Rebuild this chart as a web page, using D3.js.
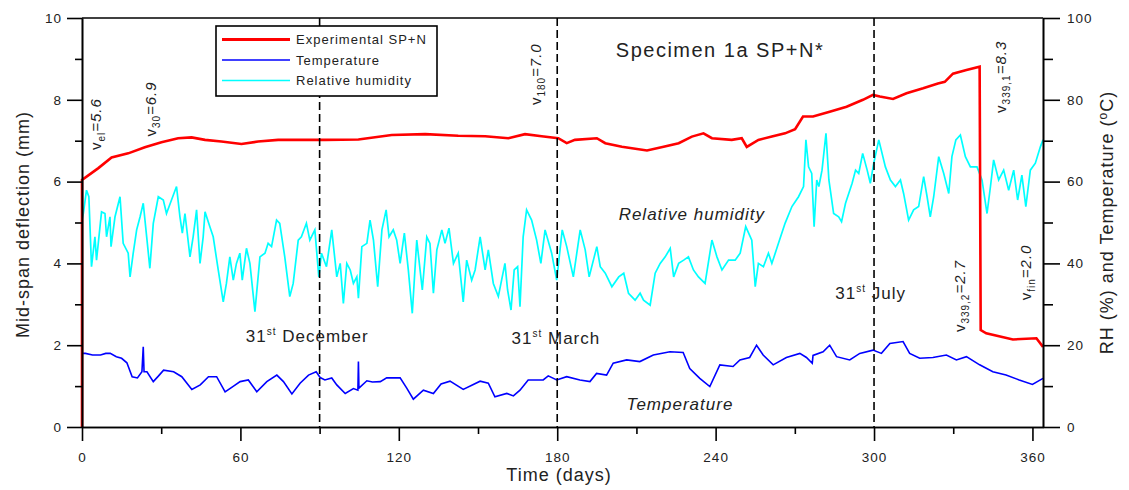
<!DOCTYPE html>
<html>
<head>
<meta charset="utf-8">
<script src="https://cdn.jsdelivr.net/npm/d3@7"></script>
<style>
  body { margin: 0; background: #fff; }
  svg text { font-family: "Liberation Sans", Arial, sans-serif; fill: #222; letter-spacing: 1px; }
</style>
</head>
<body>
<svg id="chart" width="1129" height="490"></svg>
<script>
// Mid-span deflection (mm) : [day, value]
const deflection = [
  [0,0],[0,6.04],[6.2,6.33],[11.2,6.59],[17.5,6.69],[23.8,6.84],[30.1,6.96],[36.4,7.06],[41.5,7.08],
  [46.6,7.02],[52.8,6.98],[60.4,6.92],[66.7,6.98],[74.3,7.02],[86.9,7.02],[92.1,7.02],[104.7,7.03],
  [117.3,7.14],[130,7.16],[142.5,7.12],[152.7,7.11],[161.5,7.06],[167.8,7.16],[174.1,7.11],[180.4,7.06],
  [183.6,6.94],[186.7,7.02],[195,7.06],[198.2,6.94],[204.5,6.85],[214,6.76],[220.3,6.85],[226,6.94],
  [231,7.10],[235.4,7.18],[238.6,7.06],[246.1,7.02],[249.9,7.06],[251.8,6.85],[256.2,7.02],[261.3,7.10],
  [266.3,7.18],[270.1,7.28],[273.1,7.59],[276.9,7.59],[283.2,7.71],[289.6,7.83],[295.8,8.0],[299.6,8.12],
  [302.2,8.08],[307.2,8.02],[312.3,8.16],[318.6,8.28],[324.2,8.40],[326.8,8.44],[329.9,8.64],[335,8.73],
  [340,8.81],[340.4,2.37],[342.5,2.29],[352.6,2.14],[361.5,2.17],[364,1.96]
];

// Temperature (oC) : [day, value]
const temperature = [
  [0,18.0],[1.3,18.0],[4,17.6],[7,17.6],[9,18.0],[10.7,18.0],[13,17.2],[15,16.8],[17,15.7],[19,12.3],
  [21,12.0],[22.7,13.5],[23.2,19.6],[23.5,13.5],[24.6,13.5],[27,11.1],[29,12.5],[30.9,13.9],[34.7,13.5],
  [37.8,12.3],[41.6,9.2],[44.8,10.3],[47.9,12.3],[51,12.3],[54.2,8.6],[57.4,10.0],[59.9,11.1],[63,11.5],
  [66.2,8.6],[70,11.1],[73.8,12.7],[76.3,11.1],[79.5,8.1],[82.6,10.7],[85.8,12.7],[88.7,13.5],[90.2,12.1],
  [92,11.5],[94.6,12.0],[96.5,10.3],[99.7,8.2],[102.8,9.4],[104.5,9.0],[104.7,16.0],[104.9,9.5],[107.9,11.3],
  [110,11.0],[113,11.1],[115.4,12.0],[120.5,12.0],[123,9.5],[125.5,6.8],[129.3,9.0],[133.1,8.2],[136,10.5],
  [139.4,11.2],[144.4,9.2],[150.8,11.2],[153.9,10.7],[156.4,7.4],[160.9,8.2],[163.4,7.6],[165.9,9.0],
  [169,11.5],[174.7,11.5],[176.6,12.5],[179.8,11.5],[183.6,12.3],[188.6,11.5],[192.4,11.1],[194.9,13.1],
  [198.7,12.7],[201.2,15.6],[206.3,16.4],[211.3,16.0],[216.4,17.6],[222.7,18.4],[227.7,18.2],[230.2,14.3],
  [234,11.9],[237.8,9.9],[241.6,15.2],[246.6,14.8],[249.2,16.4],[252.9,17.0],[255.5,20.0],[258,17.6],
  [261.8,15.2],[266.8,17.0],[271.9,18.0],[274.4,17.0],[276.6,15.6],[276.9,17.5],[280.7,18.4],[283.2,20.0],
  [285.8,17.2],[290.8,16.4],[294.6,18.0],[299.6,18.8],[302.8,18.0],[306,20.4],[311,20.9],[313.5,18.0],
  [317.3,16.8],[322.3,17.0],[327.4,17.6],[331.2,16.4],[335,17.2],[340,15.2],[345,13.5],[350,12.7],
  [355,11.5],[360,10.4],[364,11.9]
];

// Relative humidity (%) : [day, value]
const humidity = [
  [0,50.6],[0.5,52.2],[1.7,57.9],[2.6,56.3],[3.6,39.2],[4.9,46.5],[5.5,40.8],[7.4,52.6],[8.7,52.2],[9.3,46.5],
  [10.6,51.4],[11,44.1],[12.5,51.4],[14.4,56.3],[15.6,44.9],[17.5,42.5],[18.2,36.7],[19.4,42.5],[20.7,48.2],
  [22,51.4],[23.2,54.7],[24.5,46.5],[25.7,38.8],[27,49.8],[28.9,56.3],[30.8,55.5],[32,52.2],[33.9,55.5],
  [35.8,58.8],[37.1,51.4],[38,47.4],[39,52.2],[40.9,41.6],[42.1,46.5],[43.4,53.1],[44.7,40.0],[45.9,46.5],
  [46.6,52.6],[48.4,49.0],[49.7,46.5],[51.6,38.4],[53.5,30.6],[54.7,35.1],[56,41.6],[57.3,35.9],[58.5,40.0],
  [59.8,42.5],[60.7,35.9],[62.3,43.7],[63.6,40.0],[65.5,28.2],[67.4,41.6],[69.3,42.5],[70.5,44.9],[71.8,44.1],
  [73.7,50.6],[74.9,49.8],[76.8,41.6],[78.7,31.9],[80,35.1],[81.9,45.7],[83.1,46.5],[85,49.8],[86.3,45.7],
  [88.2,48.2],[89.7,36.7],[90.7,42.5],[92.6,39.2],[94.6,48.2],[96.5,36.7],[97.8,40.0],[99,30.2],[100.3,40.0],
  [101.6,38.4],[102.8,35.1],[104.1,36.7],[104.7,31.5],[106,44.1],[107.9,44.9],[109.1,50.6],[110.4,45.7],
  [112,34.3],[113.6,48.2],[115.2,53.1],[116.3,46.5],[117.9,48.2],[119.2,45.7],[120.5,40.0],[122.1,47.4],
  [123.6,38.4],[125.1,27.8],[126.8,45.7],[128.9,33.5],[130.6,46.5],[131.8,44.9],[133.1,32.7],[134.4,43.3],
  [136.3,48.2],[137.5,44.9],[139,48.6],[140.7,40.0],[142.5,42.5],[144.4,30.6],[145.7,40.8],[147.6,35.9],
  [148.9,38.4],[150.8,46.5],[152.7,38.4],[153.9,43.3],[155.8,35.1],[157.7,31.9],[160.2,40.0],[161.2,33.5],
  [162.5,28.6],[163.7,38.4],[165,39.2],[165.9,29.4],[167.1,46.5],[168.4,53.1],[170.3,50.6],[172.2,45.7],
  [173.8,40.0],[175.4,48.2],[177.9,42.5],[179.8,35.9],[181.9,48.2],[183.6,44.1],[186.1,36.7],[188.7,48.2],
  [190.6,43.3],[192.1,36.7],[195,44.1],[196.3,39.2],[198.2,37.6],[200.7,34.3],[203.3,36.7],[205.2,37.6],
  [207,32.7],[209.5,31.0],[211.4,32.7],[212.7,31.0],[215.2,29.8],[217.1,37.6],[219,40.0],[220.9,41.6],
  [222.8,43.7],[224.1,36.7],[226,40.0],[227.9,40.8],[229.7,41.6],[231.6,38.4],[233.5,36.7],[236,35.1],
  [238.6,45.7],[240.5,41.6],[242.4,38.4],[244.9,40.8],[247.4,40.8],[249.3,42.5],[251.4,49.0],[253.7,45.7],
  [255,34.3],[256.2,40.0],[258.1,39.2],[260,42.5],[261.3,40.0],[263.8,44.9],[266.3,49.8],[268.9,53.9],
  [271.4,56.3],[273.3,58.8],[274.2,70.2],[275.2,63.6],[276.4,62.0],[277.3,49.0],[278.3,60.4],[279.1,58.8],
  [280.3,62.8],[281.8,71.8],[282.9,60.4],[284.7,52.2],[286.6,51.4],[287.7,50.2],[289.2,54.7],[291.7,59.6],
  [293,62.8],[294.2,62.0],[295.7,66.9],[297.4,62.8],[298.6,59.6],[299.9,64.5],[301.8,70.2],[304.3,63.6],
  [306.2,60.4],[308.1,58.8],[310,60.4],[311.2,57.1],[313.1,50.6],[315,53.1],[316.9,53.9],[318.8,61.2],
  [320.1,56.3],[321.3,51.4],[322.6,56.3],[324.5,66.1],[326.4,62.0],[328.3,57.1],[329.5,66.1],[331,70.2],
  [332.7,71.4],[334.6,66.1],[336.5,63.6],[339,63.6],[340.9,60.4],[342.8,52.2],[344.1,58.8],[345.3,65.3],
  [347.2,60.4],[349.1,62.8],[351,57.9],[352.9,62.8],[354.4,55.5],[356,61.6],[357.5,53.9],[359.2,62.8],
  [361.1,64.5],[363,68.5],[364,70.2]
];

// dates marked with dashed lines (days)
const markerDays = [90, 180, 300];

// tick values
const xMajor = [0, 60, 120, 180, 240, 300, 360];
const xMinor = [30, 90, 150, 210, 270, 330];
const yLeftMajor = [0, 2, 4, 6, 8, 10];
const yLeftMinor = [1, 3, 5, 7, 9];
const yRightMajor = [0, 20, 40, 60, 80, 100];
const yRightMinor = [10, 30, 50, 70, 90];

const legendItems = [
  {name: "Experimental SP+N", color: "#ff0000", width: 3},
  {name: "Temperature", color: "#0000ff", width: 1.5},
  {name: "Relative humidity", color: "#00ffff", width: 1.5}
];

let svg = d3.select("#chart");
let plotLeft = 82, plotRight = 1043, plotTop = 18, plotBottom = 427;

let x = d3.scaleLinear().domain([0, 364]).range([plotLeft, plotRight]);
let yL = d3.scaleLinear().domain([0, 10]).range([plotBottom, plotTop]);
let yR = d3.scaleLinear().domain([0, 100]).range([plotBottom, plotTop]);

// Lines
let lineL = d3.line().x(d => x(d[0])).y(d => yL(d[1]));
let lineR = d3.line().x(d => x(d[0])).y(d => yR(d[1]));

svg.append("path").datum(humidity)
  .attr("d", lineR).attr("fill", "none")
  .attr("stroke", "#00ffff").attr("stroke-width", 1.7);

svg.append("path").datum(temperature)
  .attr("d", lineR).attr("fill", "none")
  .attr("stroke", "#0000ff").attr("stroke-width", 1.6);

svg.append("path").datum(deflection)
  .attr("d", lineL).attr("fill", "none")
  .attr("stroke", "#ff0000").attr("stroke-width", 2.6);

// dashed date lines
svg.selectAll(".marker")
  .data(markerDays)
  .join("line")
  .attr("x1", d => x(d)).attr("x2", d => x(d))
  .attr("y1", plotTop).attr("y2", plotBottom)
  .attr("stroke", "#000").attr("stroke-width", 1.6)
  .attr("stroke-dasharray", "8,4");

// Axes: a minor axis (short ticks, no labels) under a major one
function styleAxis(g) {
  g.select(".domain").attr("stroke", "#000").attr("stroke-width", 1.6);
  g.selectAll(".tick line").attr("stroke", "#000").attr("stroke-width", 1.6);
  g.selectAll(".tick text")
    .attr("font-size", 13.5)
    .attr("font-family", "Liberation Sans, Arial, sans-serif")
    .attr("fill", "#333");
}

svg.append("g").attr("transform", `translate(0,${plotBottom})`)
  .call(d3.axisBottom(x).tickValues(xMinor).tickSize(7).tickSizeOuter(0).tickFormat(""))
  .call(styleAxis);
svg.append("g").attr("transform", `translate(0,${plotBottom})`)
  .call(d3.axisBottom(x).tickValues(xMajor).tickSize(14).tickSizeOuter(0).tickPadding(11))
  .call(styleAxis);

svg.append("g").attr("transform", `translate(${plotLeft},0)`)
  .call(d3.axisLeft(yL).tickValues(yLeftMinor).tickSize(7).tickSizeOuter(0).tickFormat(""))
  .call(styleAxis);
svg.append("g").attr("transform", `translate(${plotLeft},0)`)
  .call(d3.axisLeft(yL).tickValues(yLeftMajor).tickSize(15).tickSizeOuter(0).tickPadding(5))
  .call(styleAxis);

svg.append("g").attr("transform", `translate(${plotRight},0)`)
  .call(d3.axisRight(yR).tickValues(yRightMinor).tickSize(10).tickSizeOuter(0).tickFormat(""))
  .call(styleAxis);
svg.append("g").attr("transform", `translate(${plotRight},0)`)
  .call(d3.axisRight(yR).tickValues(yRightMajor).tickSize(17).tickSizeOuter(0).tickPadding(7))
  .call(styleAxis);

// top border
svg.append("line")
  .attr("x1", plotLeft).attr("x2", plotRight).attr("y1", plotTop).attr("y2", plotTop)
  .attr("stroke", "#000").attr("stroke-width", 1.6);

// Axis titles
svg.append("text")
  .attr("transform", `translate(29,${(plotTop + plotBottom) / 2 + 2}) rotate(-90)`)
  .attr("text-anchor", "middle").attr("font-size", 18)
  .text("Mid-span deflection (mm)");

let rt = svg.append("text")
  .attr("transform", `translate(1113,${(plotTop + plotBottom) / 2}) rotate(-90)`)
  .attr("text-anchor", "middle").attr("font-size", 18);
rt.append("tspan").text("RH (%) and Temperature (");
rt.append("tspan").attr("font-size", 12).attr("dy", -6).text("o");
rt.append("tspan").attr("dy", 6).text("C)");

svg.append("text")
  .attr("x", 559).attr("y", 481)
  .attr("text-anchor", "middle").attr("font-size", 18)
  .text("Time (days)");

// Title
svg.append("text")
  .attr("x", 720).attr("y", 57)
  .attr("text-anchor", "middle").attr("font-size", 20)
  .style("letter-spacing", "1.5px")
  .text("Specimen 1a SP+N*");

// Date annotations with superscript "st"
function dateLabel(day, val, txt) {
  let t = svg.append("text")
    .attr("x", x(day)).attr("y", yL(val))
    .attr("text-anchor", "middle").attr("font-size", 17);
  t.append("tspan").text("31");
  t.append("tspan").attr("font-size", 10).attr("dy", -7).text("st");
  t.append("tspan").attr("dy", 7).text(" " + txt);
}
dateLabel(85.3, 2.08, "December");
dateLabel(179.5, 2.03, "March");
dateLabel(298.7, 3.13, "July");

// Series annotations
svg.append("text")
  .attr("x", x(231)).attr("y", yL(5.05))
  .attr("text-anchor", "middle").attr("font-size", 17).attr("font-style", "italic")
  .text("Relative humidity");
svg.append("text")
  .attr("x", x(226.5)).attr("y", yL(0.42))
  .attr("text-anchor", "middle").attr("font-size", 17).attr("font-style", "italic")
  .text("Temperature");

// Rotated deflection values  v_sub = value
function vLabel(day, val, sub, txt) {
  let t = svg.append("text")
    .attr("transform", `translate(${x(day)},${yL(val)}) rotate(-90)`)
    .attr("font-size", 15);
  t.append("tspan").text("v");
  t.append("tspan").attr("font-size", 10).attr("dy", 4).text(sub);
  t.append("tspan").attr("dy", -4).attr("font-style", "italic").text("=" + txt);
}
vLabel(7.3, 6.77, "el", "5.6");
vLabel(28.1, 7.1, "30", "6.9");
vLabel(173.9, 7.87, "180", "7.0");
vLabel(349.8, 7.68, "339,1", "8.3");
vLabel(334.3, 2.32, "339,2", "2.7");
vLabel(359.3, 3.1, "fin", "2.0");

// Legend
let legend = svg.append("g");
legend.append("rect")
  .attr("x", 216).attr("y", 26).attr("width", 221).attr("height", 70)
  .attr("fill", "#fff").attr("stroke", "#000").attr("stroke-width", 1.6);
legendItems.forEach(function(d, i) {
  let yy = 39.5 + i * 20.5;
  legend.append("line")
    .attr("x1", 222).attr("x2", 290).attr("y1", yy).attr("y2", yy)
    .attr("stroke", d.color).attr("stroke-width", d.width);
  legend.append("text")
    .attr("x", 296).attr("y", yy + 4.5)
    .attr("font-size", 13)
    .text(d.name);
});
</script>
</body>
</html>
